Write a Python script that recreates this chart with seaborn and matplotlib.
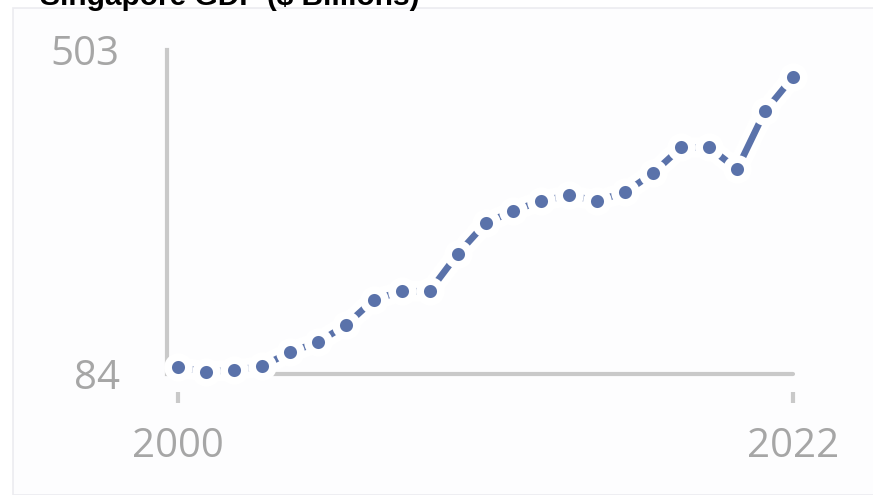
#!/usr/bin/env python3
"""Singapore GDP line chart, 2000-2022."""

import matplotlib

matplotlib.use("Agg")
import matplotlib.pyplot as plt
import numpy as np
import pandas as pd
import seaborn as sns
from matplotlib.patches import Rectangle

years = list(range(2000, 2023))
gdp = [93, 87, 89, 94, 112, 125, 147, 180, 191, 191, 239, 279, 295,
       308, 315, 308, 319, 344, 377, 377, 349, 424, 468]
y_ticks = [84, 503]
x_ticks = [2000, 2022]
title = "Singapore GDP ($ Billions)"

BLUE = "#5a72aa"
GRAY_TXT = "#a6a6a6"
GRAY_AX = "#c9c9c9"

sns.set_theme(style="white")
plt.rcParams["font.family"] = ["Open Sans", "DejaVu Sans"]

df = pd.DataFrame({"year": years, "gdp": gdp})

fig = plt.figure(figsize=(8.73, 4.95), dpi=100, facecolor="white")
fig.patches.append(Rectangle((13 / 873, 0), 1, 1 - 8 / 495, transform=fig.transFigure,
                             facecolor="#fdfdfe", edgecolor="#ececf0", linewidth=1.2, zorder=-5))
ax = fig.add_axes([167 / 873, 1 - 374 / 495, 626 / 873, 324 / 495])
ax.set_facecolor("none")
ax.set_zorder(2)

# baseline drawn as a line so the tick marks can sit detached below it
ax.axhline(y_ticks[0], color=GRAY_AX, linewidth=3, zorder=1, clip_on=False)

sns.lineplot(data=df, x="year", y="gdp", ax=ax, color="white", linewidth=15,
             solid_capstyle="round", zorder=4, clip_on=False)
sns.lineplot(data=df, x="year", y="gdp", ax=ax, color=BLUE, linewidth=4.8,
             marker="o", markersize=15, markeredgecolor="white", markeredgewidth=5.6,
             zorder=5, clip_on=False)

ax.set_xlim(2000 - 11 / 27.95, 2022)
ax.set_ylim(y_ticks[0], y_ticks[1])
ax.set_xticks(x_ticks)
ax.set_yticks(y_ticks)
ax.set_xticklabels([str(v) for v in x_ticks])
ax.set_yticklabels([str(v) for v in y_ticks])
ax.set_xlabel("")
ax.set_ylabel("")

for side in ["top", "right"]:
    ax.spines[side].set_visible(False)
ax.spines["left"].set_color(GRAY_AX)
ax.spines["left"].set_linewidth(3)
ax.spines["left"].set_zorder(1)
ax.spines["bottom"].set_position(("outward", 13))
ax.spines["bottom"].set_color("none")

ax.tick_params(axis="y", length=0, pad=34, labelsize=29, labelcolor=GRAY_TXT)
ax.tick_params(axis="x", bottom=True, direction="out", length=8, width=3, color=GRAY_AX,
               pad=17, labelsize=29, labelcolor=GRAY_TXT)

fig.text(40 / 873, 1 - 5 / 495, title, ha="left", va="baseline", fontsize=21.5,
         fontweight="bold", color="black", family=["Liberation Sans", "DejaVu Sans"])

fig.savefig("out.png", dpi=100, facecolor=fig.get_facecolor())
